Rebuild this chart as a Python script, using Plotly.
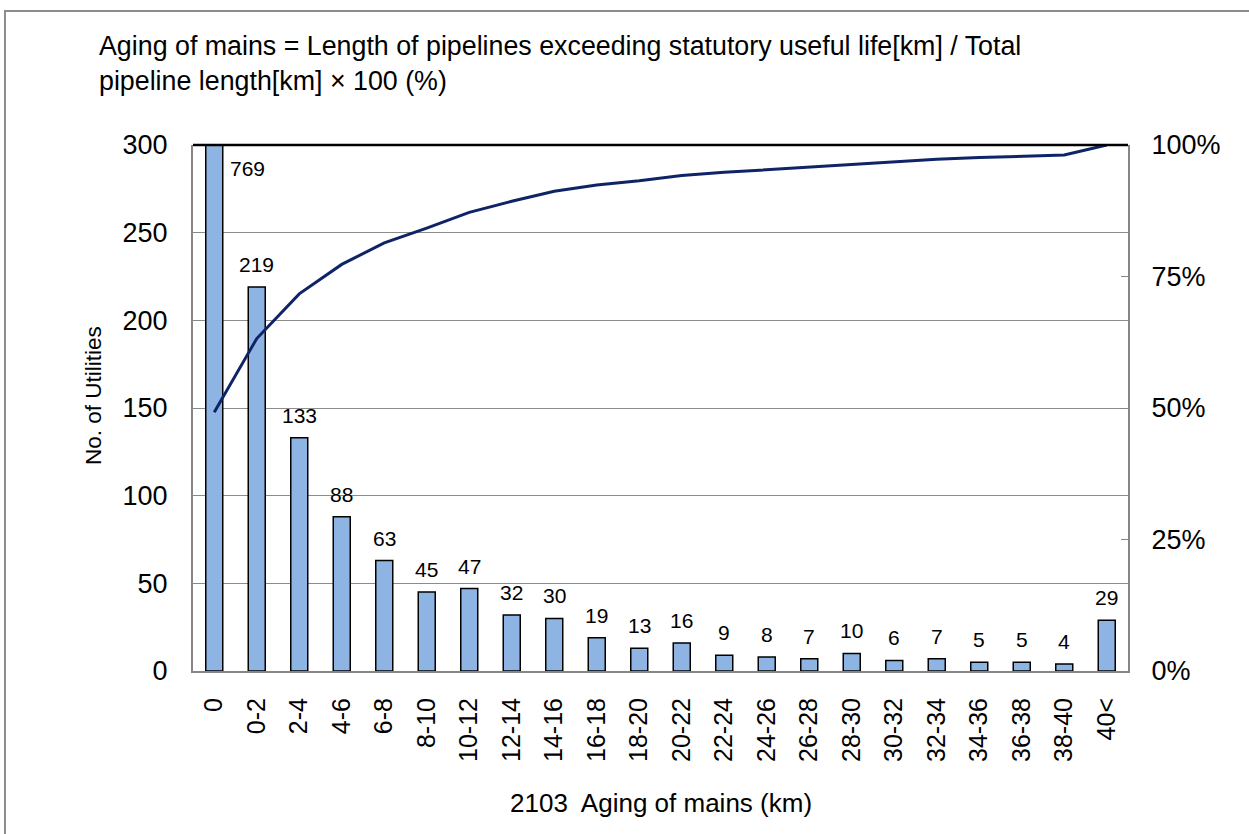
import plotly.graph_objects as go

categories = ["0", "0-2", "2-4", "4-6", "6-8", "8-10", "10-12", "12-14", "14-16", "16-18",
              "18-20", "20-22", "22-24", "24-26", "26-28", "28-30", "30-32", "32-34",
              "34-36", "36-38", "38-40", "40<"]
counts = [769, 219, 133, 88, 63, 45, 47, 32, 30, 19, 13, 16, 9, 8, 7, 10, 6, 7, 5, 5, 4, 29]
cumulative_share = [0.492, 0.632, 0.717, 0.773, 0.814, 0.842, 0.872, 0.893, 0.912, 0.924,
                    0.932, 0.942, 0.948, 0.953, 0.958, 0.964, 0.968, 0.973, 0.976, 0.979,
                    0.981, 1.000]
y_ticks = [0, 50, 100, 150, 200, 250, 300]
y2_ticks = [0, 0.25, 0.5, 0.75, 1.0]
y2_labels = ["0%", "25%", "50%", "75%", "100%"]

title_text = ("Aging of mains = Length of pipelines exceeding statutory useful life[km] / Total"
              "<br>pipeline length[km] × 100 (%)")
x_title = "2103  Aging of mains (km)"
y_title = "No. of Utilities"

FONT = "Liberation Sans, Arial, sans-serif"
Y_MAX = 300

fig = go.Figure()
fig.add_trace(go.Bar(
    x=categories, y=counts,
    marker=dict(color="#8DB4E2", line=dict(color="#000000", width=1.5)),
    showlegend=False, hoverinfo="x+y",
))
fig.add_trace(go.Scatter(
    x=categories, y=cumulative_share, yaxis="y2", mode="lines",
    line=dict(color="#0F2466", width=3), showlegend=False,
))

annotations = []
for c, v in zip(categories, counts):
    if v > Y_MAX:
        annotations.append(dict(x=c, y=Y_MAX, text=str(v), showarrow=False,
                                xanchor="center", yanchor="middle", xshift=33, yshift=-23,
                                font=dict(size=21, color="#000000", family=FONT)))
    else:
        annotations.append(dict(x=c, y=v, text=str(v), showarrow=False,
                                xanchor="center", yanchor="bottom", yshift=9,
                                font=dict(size=21, color="#000000", family=FONT)))

annotations += [
    dict(xref="paper", yref="paper", x=-0.1027, y=1.155, xanchor="left", yanchor="middle",
         align="left", text=title_text, showarrow=False,
         font=dict(size=26.8, color="#000000", family=FONT)),
    dict(xref="paper", yref="paper", x=0.5, y=-0.251, xanchor="center", yanchor="middle",
         text=x_title, showarrow=False, font=dict(size=26, color="#000000", family=FONT)),
    dict(xref="paper", yref="paper", x=-0.107, y=0.5247, xanchor="center", yanchor="middle",
         text=y_title, textangle=-90, showarrow=False,
         font=dict(size=22.5, color="#000000", family=FONT)),
]

fig.update_layout(
    width=1249, height=834,
    margin=dict(l=193, r=121, t=145, b=163, pad=0),
    paper_bgcolor="#FFFFFF", plot_bgcolor="#FFFFFF",
    bargap=0.6,
    font=dict(family=FONT, color="#000000"),
    xaxis=dict(type="category", range=[-0.5, len(categories) - 0.5],
               tickangle=-90, tickfont=dict(size=25), ticks="",
               showgrid=False, showline=True, linecolor="#868686", linewidth=2,
               ticklabelstandoff=15, zeroline=False),
    yaxis=dict(range=[0, Y_MAX], tickvals=y_ticks, tickfont=dict(size=27),
               ticks="inside", ticklen=7, tickcolor="#868686",
               showgrid=True, gridcolor="#8C8C8C", gridwidth=1,
               showline=True, linecolor="#868686", linewidth=2,
               zeroline=False, ticklabelstandoff=18),
    yaxis2=dict(overlaying="y", side="right", range=[0, 1], tickvals=y2_ticks,
                ticktext=y2_labels, tickfont=dict(size=27),
                ticks="inside", ticklen=7, tickcolor="#868686",
                showgrid=False, showline=True, linecolor="#868686", linewidth=2,
                zeroline=False, ticklabelstandoff=16),
    annotations=annotations,
    shapes=[
        dict(type="line", xref="paper", yref="paper", x0=0, x1=1, y0=1, y1=1,
             line=dict(color="#000000", width=2.5)),
        dict(type="rect", xref="paper", yref="paper", x0=-0.2011, x1=1.16,
             y0=-0.36, y1=1.2548, line=dict(color="#8C8C8C", width=2), layer="below"),
    ],
)

fig.write_html("out.html", config={"displayModeBar": False},
               post_script="document.body.style.margin='0';")
